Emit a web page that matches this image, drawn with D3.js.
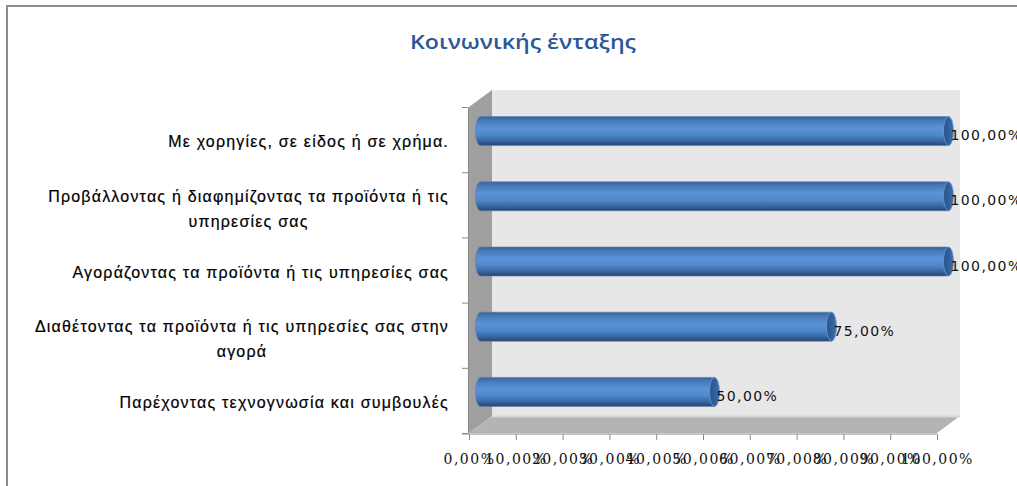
<!DOCTYPE html>
<html>
<head>
<meta charset="utf-8">
<script src="https://cdn.jsdelivr.net/npm/d3@7/dist/d3.min.js"></script>
<style>
  html, body { margin: 0; padding: 0; background: #fff; }
  svg { display: block; }
</style>
</head>
<body>
<svg id="chart" width="1017" height="486"></svg>
<script>
// Chart data
const title = "Κοινωνικής ένταξης";
const categories = [
  "Με χορηγίες, σε είδος ή σε χρήμα.",
  "Προβάλλοντας ή διαφημίζοντας τα προϊόντα ή τις υπηρεσίες σας",
  "Αγοράζοντας τα προϊόντα ή τις υπηρεσίες σας",
  "Διαθέτοντας τα προϊόντα ή τις υπηρεσίες σας στην αγορά",
  "Παρέχοντας τεχνογνωσία και συμβουλές"
];
// Wrapped category label lines
const categoryLines = [
  ["Με χορηγίες, σε είδος ή σε χρήμα."],
  ["Προβάλλοντας ή διαφημίζοντας τα προϊόντα ή τις", "υπηρεσίες σας"],
  ["Αγοράζοντας τα προϊόντα ή τις υπηρεσίες σας"],
  ["Διαθέτοντας τα προϊόντα ή τις υπηρεσίες σας στην", "αγορά"],
  ["Παρέχοντας τεχνογνωσία και συμβουλές"]
];
const values = [100, 100, 100, 75, 50];
const tickValues = [0, 10, 20, 30, 40, 50, 60, 70, 80, 90, 100];

const fmt = v => v.toFixed(2).replace(".", ",") + "%";

const svg = d3.select("#chart");

// Frame edge
svg.append("line").attr("x1", 6).attr("x2", 1017).attr("y1", 6).attr("y2", 6)
  .attr("stroke", "#8c8c8c").attr("stroke-width", 2);
svg.append("line").attr("x1", 7).attr("x2", 7).attr("y1", 5).attr("y2", 486)
  .attr("stroke", "#8c8c8c").attr("stroke-width", 2);

// Title
svg.append("text")
  .attr("x", 523).attr("y", 49)
  .attr("text-anchor", "middle")
  .attr("font-family", "'Open Sans', 'Noto Sans', sans-serif")
  .attr("font-size", 20)
  .attr("font-weight", 600)
  .attr("fill", "#2b5797")
  .attr("textLength", 226)
  .attr("lengthAdjust", "spacingAndGlyphs")
  .text(title);

// Scales (front plane of the 3D box)
const x = d3.scaleLinear().domain([0, 100]).range([469, 937]);
const y = d3.scaleBand().domain(categories).range([107, 433]);
const depthX = 23, depthY = -17;
const barH = 29;

const x0 = x(0), x1 = x(100);
const yTop = y.range()[0], yBot = y.range()[1];

// Back wall
svg.append("rect")
  .attr("x", x0 + depthX).attr("y", yTop + depthY)
  .attr("width", x1 - x0).attr("height", yBot - yTop)
  .attr("fill", "#e7e7e7");

// Left side wall
svg.append("path")
  .attr("d", `M${x0},${yTop} L${x0 + depthX},${yTop + depthY} L${x0 + depthX},${yBot + depthY} L${x0},${yBot} Z`)
  .attr("fill", "#9f9f9f");

// Floor
svg.append("path")
  .attr("d", `M${x0},${yBot} L${x0 + depthX},${yBot + depthY} L${x1 + depthX},${yBot + depthY} L${x1},${yBot} Z`)
  .attr("fill", "#b4b4b4");
svg.append("line")
  .attr("x1", x0 + depthX).attr("x2", x1 + depthX)
  .attr("y1", yBot + depthY + 0.5).attr("y2", yBot + depthY + 0.5)
  .attr("stroke", "#d6d6d6").attr("stroke-width", 2);

// Bar gradients
const defs = svg.append("defs");
const grad = defs.append("linearGradient")
  .attr("id", "barBody").attr("x1", 0).attr("x2", 0).attr("y1", 0).attr("y2", 1);
[[0, "#36619a"], [0.12, "#4678b6"], [0.4, "#5b93d6"], [0.62, "#5089cb"],
 [0.82, "#3b6aa6"], [1, "#24456f"]].forEach(([o, c]) =>
  grad.append("stop").attr("offset", o).attr("stop-color", c));
const capGrad = defs.append("linearGradient")
  .attr("id", "barCap").attr("x1", 0).attr("x2", 1).attr("y1", 0).attr("y2", 0);
[[0, "#2a5288"], [0.6, "#33629f"], [1, "#3e71b0"]].forEach(([o, c]) =>
  capGrad.append("stop").attr("offset", o).attr("stop-color", c));

// Bars: cylinders sitting at mid depth
const bx = depthX / 2, by = depthY / 2;
const rx = 5, ry = barH / 2;
const bars = svg.append("g").selectAll("g.bar")
  .data(categories.map((c, i) => ({ c, v: values[i] })))
  .join("g").attr("class", "bar");

bars.append("path")
  .attr("d", d => {
    const cy = y(d.c) + y.bandwidth() / 2 + by;
    const left = x(0) + bx, right = x(d.v) + bx;
    return `M${left},${cy - ry} L${right},${cy - ry} L${right},${cy + ry} L${left},${cy + ry} ` +
      `A${rx},${ry} 0 0 1 ${left},${cy - ry} Z`;
  })
  .attr("fill", "url(#barBody)")
  .attr("stroke", "#5a7fb0").attr("stroke-width", 0.6);

bars.append("ellipse")
  .attr("cx", d => x(d.v) + bx)
  .attr("cy", d => y(d.c) + y.bandwidth() / 2 + by)
  .attr("rx", rx).attr("ry", ry)
  .attr("fill", "url(#barCap)")
  .attr("stroke", "#6f9ad0").attr("stroke-width", 0.8);

// Value labels
bars.append("text")
  .attr("x", d => x(d.v) + bx + rx - 3)
  .attr("y", d => y(d.c) + y.bandwidth() / 2 + by + 9)
  .attr("font-family", "'DejaVu Sans', sans-serif")
  .attr("font-size", 14)
  .attr("letter-spacing", 1.4)
  .attr("fill", "#111")
  .text(d => fmt(d.v));

// Bottom value axis
const xAxis = d3.axisBottom(x)
  .tickValues(tickValues)
  .tickFormat(fmt)
  .tickSize(6)
  .tickSizeOuter(0);
const gx = svg.append("g")
  .attr("transform", `translate(0,${yBot + 1})`)
  .call(xAxis);
gx.select(".domain").remove();
gx.append("line").attr("x1", x0 - 7).attr("x2", x1).attr("y1", 0).attr("y2", 0)
  .attr("stroke", "#8a8a8a");
gx.selectAll(".tick line").attr("stroke", "#8a8a8a");
gx.selectAll(".tick text")
  .attr("y", 26)
  .attr("dy", "0.3em")
  .attr("font-family", "'DejaVu Serif', serif")
  .attr("font-size", 14)
  .attr("letter-spacing", 1.5)
  .attr("fill", "#111");

// Left category axis (ticks on band edges)
const edges = d3.scaleLinear().domain([0, categories.length]).range([yTop, yBot]);
const yAxis = d3.axisLeft(edges)
  .tickValues(d3.range(categories.length + 1))
  .tickFormat("")
  .tickSize(6)
  .tickSizeOuter(0);
const gy = svg.append("g")
  .attr("transform", `translate(${x0 - 1},0)`)
  .call(yAxis);
gy.select(".domain").attr("stroke", "#8a8a8a");
gy.selectAll(".tick line").attr("stroke", "#8a8a8a");

// Category labels (right-aligned block, lines centred within it)
const labelRight = 449;
const lineGap = 25;
const labels = svg.append("g")
  .attr("font-family", "'Liberation Sans', Arial, sans-serif")
  .attr("font-size", 16)
  .attr("letter-spacing", 1.2)
  .attr("fill", "#000")
  .attr("stroke", "#000")
  .attr("stroke-width", 0.2);

categoryLines.forEach((lines, i) => {
  const cy = y(categories[i]) + y.bandwidth() / 2 + (lines.length > 1 ? 4 : 2);
  const g = labels.append("g");
  const texts = lines.map((ln, j) => g.append("text")
    .attr("y", cy + (j - (lines.length - 1) / 2) * lineGap)
    .attr("dy", "0.35em")
    .attr("text-anchor", "middle")
    .text(ln));
  const widths = texts.map(t => t.node().getComputedTextLength());
  const blockW = d3.max(widths);
  texts.forEach(t => t.attr("x", labelRight - blockW / 2));
});
</script>
</body>
</html>
